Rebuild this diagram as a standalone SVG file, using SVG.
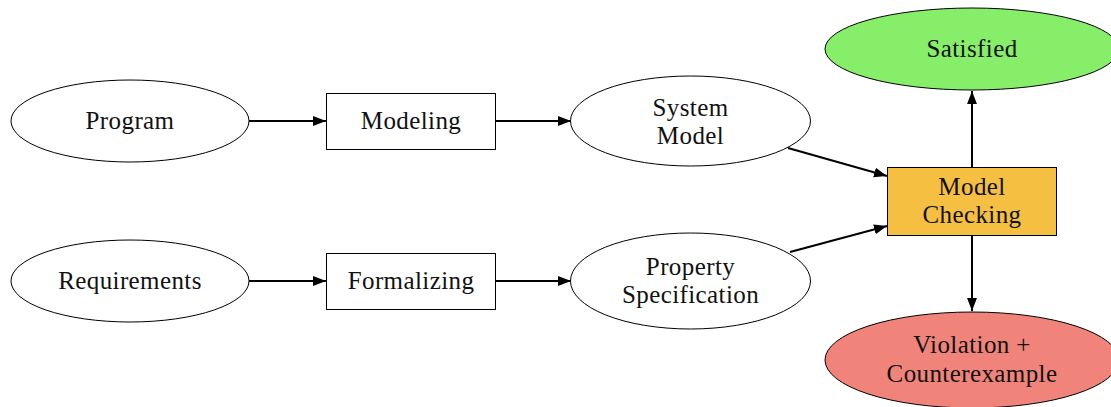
<svg xmlns="http://www.w3.org/2000/svg" width="1111" height="407" viewBox="0 0 1111 407">
<style>
.n{stroke:#000;stroke-width:1;fill:#fff}
.t{font-family:"Liberation Serif","DejaVu Serif",serif;font-size:25px;letter-spacing:0.4px;fill:#111;text-anchor:middle;dominant-baseline:central}
.e{stroke:#000;stroke-width:2;fill:none;marker-end:url(#ah)}
</style>
<defs>
<marker id="ah" viewBox="0 0 10 10" refX="10" refY="5" markerWidth="6.5" markerHeight="6.5" orient="auto" markerUnits="strokeWidth">
<path d="M0,1.2 L10,5 L0,8.8 z" fill="#000"/>
</marker>
</defs>
<rect width="1111" height="407" fill="#fff"/>
<g id="connectors">
<line class="e" x1="249" y1="121" x2="326" y2="121"/>
<line class="e" x1="495" y1="121" x2="571" y2="121"/>
<line class="e" x1="249" y1="281" x2="326" y2="281"/>
<line class="e" x1="495" y1="281" x2="571" y2="281"/>
<line class="e" x1="788" y1="148" x2="887" y2="176"/>
<line class="e" x1="790" y1="252" x2="887" y2="226"/>
<line class="e" x1="972" y1="167" x2="972" y2="91"/>
<line class="e" x1="972" y1="235" x2="972" y2="311"/>
</g>
<g id="program"><ellipse class="n" cx="130" cy="121" rx="119" ry="41"/><text class="t" x="130" y="120">Program</text></g>
<g id="requirements"><ellipse class="n" cx="130" cy="281" rx="119" ry="41"/><text class="t" x="130" y="280">Requirements</text></g>
<g id="modeling"><rect class="n" x="326.5" y="93.5" width="169" height="56"/><text class="t" x="411" y="120">Modeling</text></g>
<g id="formalizing"><rect class="n" x="326.5" y="253.5" width="169" height="56"/><text class="t" x="411" y="280">Formalizing</text></g>
<g id="system-model"><ellipse class="n" cx="690.5" cy="121" rx="120" ry="45"/><text class="t" x="690.5" y="107">System</text><text class="t" x="690.5" y="135">Model</text></g>
<g id="property-spec"><ellipse class="n" cx="690.5" cy="281" rx="120" ry="48"/><text class="t" x="690.5" y="266">Property</text><text class="t" x="690.5" y="294">Specification</text></g>
<g id="model-checking"><rect x="887.5" y="167.5" width="169" height="68" fill="#F5BF42" stroke="#000" stroke-width="1"/><text class="t" x="972" y="186">Model</text><text class="t" x="972" y="214">Checking</text></g>
<g id="satisfied"><ellipse cx="972" cy="49" rx="147" ry="41" fill="#86EE68" stroke="#000" stroke-width="1"/><text class="t" x="972" y="48">Satisfied</text></g>
<g id="violation"><ellipse cx="972" cy="360" rx="147" ry="48" fill="#F0847B" stroke="#000" stroke-width="1"/><text class="t" x="972" y="344">Violation +</text><text class="t" x="972" y="373">Counterexample</text></g>
</svg>
